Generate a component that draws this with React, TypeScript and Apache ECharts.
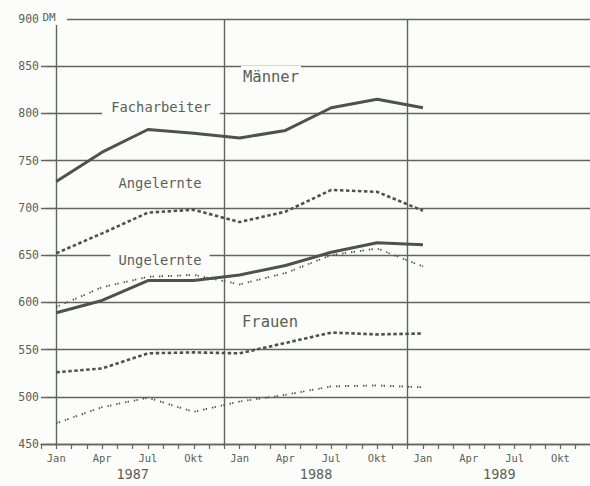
import React, { useEffect, useRef } from "react";
import * as echarts from "echarts";

// Months since Jan 1987 (quarterly survey points)
const months = [0, 3, 6, 9, 12, 15, 18, 21, 24];
const monthNames = ["Jan", "Apr", "Jul", "Okt"];
const yearLabels: Record<number, string> = { 5: "1987", 17: "1988", 29: "1989" };
const yearLines = [11, 23];

const maennerFacharbeiter = [728, 759, 783, 779, 774, 782, 806, 815, 806];
const maennerAngelernte = [652, 673, 695, 698, 685, 696, 719, 717, 697];
const maennerUngelernte = [589, 602, 623, 623, 629, 639, 653, 663, 661];
const frauenFacharbeiter = [595, 616, 627, 629, 619, 631, 650, 657, 638];
const frauenAngelernte = [526, 530, 546, 547, 546, 557, 568, 566, 567];
const frauenUngelernte = [472, 489, 499, 484, 495, 502, 511, 512, 510];

const INK = "#4d524b";
const GRID = "#5f675c";
const TEXT = "#5a5f57";
const BG = "#fcfdfa";
const FONT = "DejaVu Sans Mono";

const pairs = (vals: number[]) => months.map((m, i) => [m, vals[i]]);

export default function App() {
  const ref = useRef<HTMLDivElement>(null);
  useEffect(() => {
    if (!ref.current) return;
    const chart = echarts.init(ref.current, null, { renderer: "svg" });
    const thickDot = { color: INK, width: 2.6, type: [3.5, 2.5] as any, cap: "butt" as const };
    const thinDot = { color: INK, width: 1.8, type: [1.4, 1.2, 1.4, 5] as any, cap: "butt" as const };
    const solid = { color: INK, width: 3, type: "solid" as const };
    const mk = (name: string, data: number[], ls: any, extra: any = {}) => ({
      type: "line",
      name,
      data: pairs(data),
      showSymbol: false,
      symbol: "none",
      lineStyle: ls,
      z: 5,
      ...extra,
    });
    const labelBox = (text: string, x: number, y: number, size: number, padX: number) => ({
      type: "text",
      x,
      y,
      z: 50,
      style: {
        text,
        fill: TEXT,
        font: `${size}px "${FONT}"`,
        align: "center",
        verticalAlign: "middle",
        backgroundColor: BG,
        padding: [3, padX, 3, padX],
      },
    });
    chart.setOption({
      animation: false,
      backgroundColor: BG,
      grid: {
        left: 41,
        width: 550,
        top: 19,
        height: 425,
        containLabel: false,
        outerBoundsMode: "none",
      },
      xAxis: [
        {
          type: "value",
          min: -1,
          max: 35,
          interval: 1,
          splitLine: { show: false },
          axisLine: { show: true, lineStyle: { color: GRID, width: 1.4 } },
          axisTick: { show: true, length: 5, lineStyle: { color: GRID, width: 1.2 } },
          axisLabel: {
            margin: 8,
            color: TEXT,
            fontFamily: FONT,
            fontSize: 10.5,
            showMinLabel: true,
            showMaxLabel: true,
            hideOverlap: false,
            formatter: (v: number) =>
              v >= 0 && v % 3 === 0 ? monthNames[(v % 12) / 3] : "",
          },
        },
        {
          type: "value",
          min: -1,
          max: 35,
          interval: 1,
          position: "bottom",
          splitLine: { show: false },
          axisLine: { show: false },
          axisTick: { show: false },
          axisLabel: {
            margin: 23,
            color: TEXT,
            fontFamily: FONT,
            fontSize: 13.5,
            hideOverlap: false,
            formatter: (v: number) => yearLabels[v] || "",
          },
        },
      ],
      yAxis: {
        type: "value",
        min: 450,
        max: 900,
        interval: 50,
        axisLine: { show: true, lineStyle: { color: GRID, width: 1.4 } },
        axisTick: { show: true, length: 9, lineStyle: { color: GRID, width: 1.2 } },
        splitLine: { show: true, lineStyle: { color: GRID, width: 1.4 } },
        axisLabel: { margin: 2, color: TEXT, fontFamily: FONT, fontSize: 11.5 },
      },
      series: [
        mk("Männer Facharbeiter", maennerFacharbeiter, solid, {
          markLine: {
            silent: true,
            symbol: "none",
            label: { show: false },
            lineStyle: { color: GRID, width: 1.4, type: "solid" },
            data: yearLines.map((x) => ({ xAxis: x })),
          },
        }),
        mk("Männer Angelernte", maennerAngelernte, thickDot),
        mk("Frauen Facharbeiter", frauenFacharbeiter, thinDot),
        mk("Männer Ungelernte", maennerUngelernte, solid),
        mk("Frauen Angelernte", frauenAngelernte, thickDot),
        mk("Frauen Ungelernte", frauenUngelernte, thinDot),
      ],
      graphic: [
        { type: "rect", z: 50, shape: { x: 39, y: 6, width: 28, height: 19 }, style: { fill: BG } },
        { type: "text", z: 51, x: 49, y: 17, style: { text: "DM", fill: TEXT, font: `11px "${FONT}"`, align: "center", verticalAlign: "middle" } },
        labelBox("Männer", 271, 77, 15.5, 2),
        labelBox("Facharbeiter", 161, 107, 13.8, 9),
        labelBox("Angelernte", 160, 183, 13.8, 4),
        labelBox("Ungelernte", 160, 260, 13.8, 8),
        labelBox("Frauen", 270, 322, 15.5, 2),
      ],
    });
    return () => chart.dispose();
  }, []);
  return (
    <div
      ref={ref}
      style={{ position: "fixed", left: 0, top: 0, width: 590, height: 486 }}
    />
  );
}
